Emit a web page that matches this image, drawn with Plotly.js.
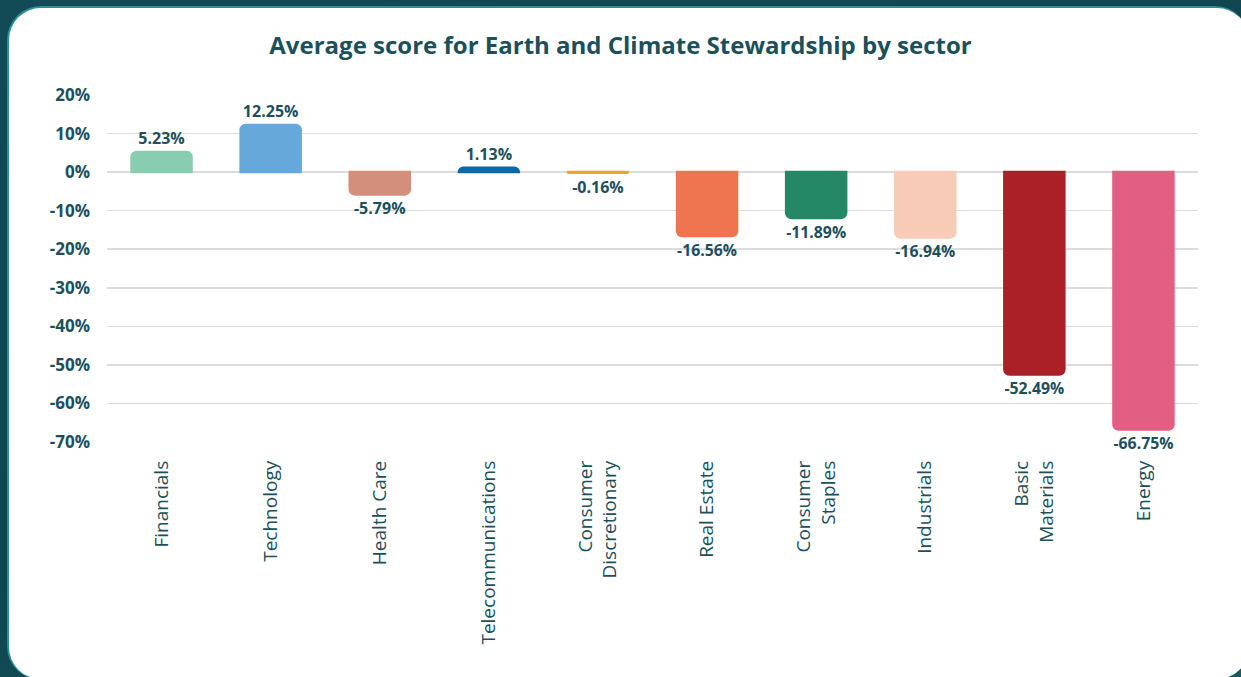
<!DOCTYPE html>
<html>
<head>
<meta charset="utf-8">
<script src="https://cdn.plot.ly/plotly-3.0.1.min.js"></script>
<style>
  html, body { margin: 0; padding: 0; width: 1241px; height: 677px; overflow: hidden; }
  body { background: linear-gradient(160deg, #124a55 0%, #0f4650 50%, #1a5a5e 100%); position: relative; }
  #card {
    position: absolute; left: 7px; top: 6px; width: 1242px; height: 674px;
    background: #2b8f99; border-radius: 34px;
  }
  #cardinner {
    position: absolute; left: 9px; top: 8px; width: 1240px; height: 671px;
    background: #ffffff; border-radius: 32px;
  }
  #chart { position: absolute; left: 0; top: 0; width: 1241px; height: 677px; }
</style>
</head>
<body>
<div id="card"></div>
<div id="cardinner"></div>
<div id="chart"></div>
<script>
const categories = [
  "Financials", "Technology", "Health Care", "Telecommunications",
  "Consumer<br>Discretionary", "Real Estate", "Consumer<br>Staples",
  "Industrials", "Basic<br>Materials", "Energy"
];
const scores = [5.23, 12.25, -5.79, 1.13, -0.16, -16.56, -11.89, -16.94, -52.49, -66.75];
const barColors = ["#88cdb0", "#67a8da", "#d48f7c", "#0b69a8", "#f2a130",
                   "#ee7550", "#248866", "#f7cbb6", "#ab1f27", "#e35e83"];
const yTickVals = [20, 10, 0, -10, -20, -30, -40, -50, -60, -70];
const yTickText = ["20%", "10%", "0%", "-10%", "-20%", "-30%", "-40%", "-50%", "-60%", "-70%"];
const title = "Average score for Earth and Climate Stewardship by sector";

const textColor = "#1b505b";
const fontFam = "'Open Sans', Lato, sans-serif";

const trace = {
  type: "bar",
  x: categories,
  y: scores,
  width: 0.55,
  marker: { color: barColors, cornerradius: 5, line: { width: 2.5, color: barColors } },
  text: scores.map(v => v.toFixed(2) + "%"),
  textposition: "outside",
  textfont: { family: fontFam, size: 16, color: textColor, weight: 700 },
  cliponaxis: false,
  hoverinfo: "x+y"
};

const layout = {
  width: 1241, height: 677,
  paper_bgcolor: "rgba(0,0,0,0)",
  plot_bgcolor: "rgba(0,0,0,0)",
  margin: { l: 107, r: 43, t: 95, b: 235 },
  title: {
    text: title,
    font: { family: fontFam, size: 24, color: textColor, weight: 700 },
    x: 0.5, xanchor: "center", y: 0.932, yanchor: "middle"
  },
  showlegend: false,
  bargap: 0.45,
  xaxis: {
    type: "category",
    tickangle: -90,
    tickfont: { family: fontFam, size: 19, color: textColor },
    showgrid: false, showline: false, zeroline: false,
    ticks: "", ticklabelstandoff: 14
  },
  yaxis: {
    range: [-70, 20],
    tickvals: yTickVals,
    ticktext: yTickText,
    tickfont: { family: fontFam, size: 17, color: textColor, weight: 700 },
    showgrid: true, gridcolor: "#dcdcdc", gridwidth: 1.5,
    zeroline: true, zerolinecolor: "#dcdcdc", zerolinewidth: 2,
    showline: false, ticks: "", ticklabelstandoff: 16
  }
};

Plotly.newPlot("chart", [trace], layout, { displayModeBar: false, staticPlot: true });
</script>
</body>
</html>
